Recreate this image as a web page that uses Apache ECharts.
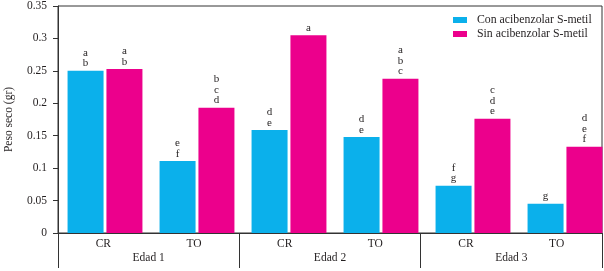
<!DOCTYPE html>
<html>
<head>
<meta charset="utf-8">
<script src="https://cdn.jsdelivr.net/npm/echarts@6/dist/echarts.min.js"></script>
<style>
html, body { margin: 0; padding: 0; background: #fff; }
#chart { width: 604px; height: 271px; }
</style>
</head>
<body>
<div id="chart"></div>
<script>
// datos
const subCats = ['CR', 'TO', 'CR', 'TO', 'CR', 'TO']
const groups = ['Edad 1', 'Edad 2', 'Edad 3']
const seriesNames = ['Con acibenzolar S-metil', 'Sin acibenzolar S-metil']
const conValues = [0.250, 0.111, 0.159, 0.148, 0.073, 0.045]
const sinValues = [0.253, 0.193, 0.305, 0.238, 0.176, 0.133]
const conLetters = [['a', 'b'], ['e', 'f'], ['d', 'e'], ['d', 'e'], ['f', 'g'], ['g']]
const sinLetters = [['a', 'b'], ['b', 'c', 'd'], ['a'], ['a', 'b', 'c'], ['c', 'd', 'e'], ['d', 'e', 'f']]
const yMin = 0
const yMax = 0.35
const yStep = 0.05

const font = 'Liberation Serif'
const ink = '#231f20'

let myChart = echarts.init(document.getElementById('chart'))

function letterLabel (letters) {
  return {
    show: true,
    position: 'top',
    distance: 2,
    fontFamily: font,
    fontSize: 11,
    lineHeight: 10.5,
    color: ink,
    formatter: p => letters[p.dataIndex].join('\n')
  }
}

let option = {
  animation: false,
  textStyle: { fontFamily: font, color: ink },
  legend: {
    orient: 'vertical',
    left: 448,
    top: 9,
    itemWidth: 14,
    itemHeight: 6,
    itemGap: 2,
    icon: 'rect',
    data: seriesNames,
    textStyle: {
      fontFamily: font,
      fontSize: 11.8,
      lineHeight: 12,
      color: ink,
      padding: [0, 0, 0, 5]
    }
  },
  grid: [
    {
      left: 58,
      right: 2,
      top: 6,
      bottom: 38,
      outerBoundsMode: 'none',
      show: true,
      borderColor: '#333',
      borderWidth: 1
    },
    // rejilla para las barras (ligeramente desplazada como en el original)
    {
      left: 59,
      width: 552,
      top: 6,
      bottom: 38,
      outerBoundsMode: 'none'
    }
  ],
  xAxis: [
    {
      gridIndex: 0,
      type: 'category',
      data: subCats,
      axisLine: { lineStyle: { color: '#333', width: 1 } },
      axisTick: { show: false },
      axisLabel: { margin: 5, fontFamily: font, fontSize: 11.5, color: ink }
    },
    {
      gridIndex: 0,
      type: 'category',
      position: 'bottom',
      data: groups,
      axisLine: { show: false },
      axisTick: {
        show: true,
        length: 35,
        interval: 0,
        lineStyle: { color: '#333', width: 1 }
      },
      axisLabel: { margin: 19, fontFamily: font, fontSize: 11.5, color: ink }
    },
    {
      gridIndex: 1,
      type: 'category',
      data: subCats,
      show: false
    }
  ],
  yAxis: [
    {
      gridIndex: 0,
      type: 'value',
      min: yMin,
      max: yMax,
      interval: yStep,
      name: 'Peso seco (gr)',
      nameLocation: 'middle',
      nameGap: 43,
      nameTextStyle: { fontFamily: font, fontSize: 11.5, color: ink },
      axisLine: { show: true, lineStyle: { color: '#333', width: 1 } },
      axisTick: { show: true, length: 5, lineStyle: { color: '#333' } },
      axisLabel: { margin: 11, fontFamily: font, fontSize: 11.5, color: ink },
      splitLine: { show: false }
    },
    {
      gridIndex: 1,
      type: 'value',
      min: yMin,
      max: yMax,
      interval: yStep,
      show: false,
      splitLine: { show: false }
    }
  ],
  series: [
    {
      name: seriesNames[0],
      type: 'bar',
      xAxisIndex: 2,
      yAxisIndex: 1,
      data: conValues,
      barWidth: 36,
      barGap: '8%',
      itemStyle: { color: '#0bb0eb' },
      label: letterLabel(conLetters)
    },
    {
      name: seriesNames[1],
      type: 'bar',
      xAxisIndex: 2,
      yAxisIndex: 1,
      data: sinValues,
      barWidth: 36,
      barGap: '8%',
      itemStyle: { color: '#ec008c' },
      label: letterLabel(sinLetters)
    }
  ]
}
myChart.setOption(option, true)
</script>
</body>
</html>
